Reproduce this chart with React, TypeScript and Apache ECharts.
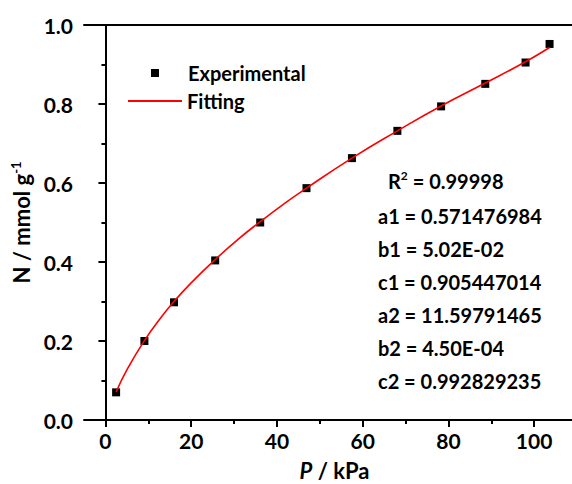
import React, { useEffect, useRef } from "react";
import * as echarts from "echarts";

const expP = [2.49, 9.09, 16.0, 25.6, 36.1, 46.9, 57.5, 68.1, 78.3, 88.6, 98.0, 103.6];
const expN = [0.07, 0.2, 0.298, 0.404, 0.5, 0.587, 0.663, 0.732, 0.794, 0.851, 0.905, 0.952];

const fitP = [2.49, 5, 9.09, 13, 16, 20, 25.6, 31, 36.1, 41.5, 46.9, 57.5, 68.1, 78.3, 88.6, 98.0, 103.6];
const fitN = [0.071, 0.127, 0.201, 0.26, 0.3, 0.347, 0.406, 0.458, 0.502, 0.546, 0.587, 0.663, 0.732, 0.795, 0.853, 0.907, 0.943];

const xTickValues = [0, 20, 40, 60, 80, 100];
const xMinorValues = [10, 30, 50, 70, 90];

const annotations = [
  "{n|R}{sup|2}{n| = 0.99998}",
  "a1 = 0.571476984",
  "b1 = 5.02E-02",
  "c1 = 0.905447014",
  "a2 = 11.59791465",
  "b2 = 4.50E-04",
  "c2 = 0.992829235",
];

const FONT = "Lato";

export default function App() {
  const ref = useRef<HTMLDivElement>(null);
  useEffect(() => {
    if (!ref.current) return;
    const chart = echarts.init(ref.current, undefined, { renderer: "svg" });
    const annY = [181, 218, 251, 284, 317, 350, 383];
    const annX = [388, 378, 378, 378, 378, 378, 378];
    chart.setOption({
      animation: false,
      backgroundColor: "#fff",
      grid: { left: 84, right: -5, top: 25, bottom: 64, containLabel: false, outerBoundsMode: "none" },
      legend: [
        {
          data: ["Experimental"],
          left: 151,
          top: 63,
          padding: 0,
          itemWidth: 8,
          itemHeight: 8,
          icon: "rect",
          selectedMode: false,
          textStyle: { fontFamily: FONT, fontWeight: "bold", fontSize: 20, color: "#000", padding: [0, 0, 0, 24] },
        },
        {
          data: ["Fitting"],
          left: 128,
          top: 91,
          padding: 0,
          itemWidth: 54,
          itemHeight: 2,
          icon: "rect",
          selectedMode: false,
          textStyle: { fontFamily: FONT, fontWeight: "bold", fontSize: 20, color: "#000" },
        },
      ],
      xAxis: [
        {
          type: "value",
          min: -5,
          max: 110,
          position: "bottom",
          name: "{i|P} / kPa",
          nameLocation: "middle",
          nameGap: 39,
          nameTextStyle: {
            fontFamily: FONT,
            fontWeight: "bold",
            fontSize: 22,
            color: "#000",
            padding: [0, 0, 0, 8],
            rich: { i: { fontFamily: FONT, fontWeight: "bold", fontStyle: "italic", fontSize: 22, color: "#000" } },
          },
          axisLine: { show: true, lineStyle: { color: "#000", width: 2 } },
          axisTick: { show: true, inside: false, length: 7, lineStyle: { color: "#000", width: 2 }, customValues: xTickValues },
          axisLabel: { show: true, customValues: xTickValues, margin: 10, fontFamily: FONT, fontWeight: "bold", fontSize: 21, color: "#000" },
          splitLine: { show: false },
        },
        {
          type: "value",
          min: -5,
          max: 110,
          position: "bottom",
          axisLine: { show: false },
          axisTick: { show: true, inside: false, length: 4, lineStyle: { color: "#000", width: 2 }, customValues: xMinorValues },
          axisLabel: { show: false },
          splitLine: { show: false },
        },
        {
          type: "value",
          min: -5,
          max: 110,
          position: "top",
          axisLine: { show: true, lineStyle: { color: "#000", width: 2 } },
          axisTick: { show: false },
          axisLabel: { show: false },
          splitLine: { show: false },
        },
      ],
      yAxis: {
        type: "value",
        min: 0,
        max: 1,
        interval: 0.2,
        name: "N / mmol g{sup|-1}",
        nameLocation: "middle",
        nameGap: 47,
        nameTextStyle: {
          fontFamily: FONT,
          fontWeight: "bold",
          fontSize: 22,
          color: "#000",
          rich: { sup: { fontFamily: FONT, fontWeight: "bold", fontSize: 13, color: "#000", padding: [0, 0, 12, 0] } },
        },
        axisLine: { show: true, lineStyle: { color: "#000", width: 2 } },
        axisTick: { show: true, inside: false, length: 7, lineStyle: { color: "#000", width: 2 } },
        minorTick: { show: true, splitNumber: 2, length: 4, lineStyle: { color: "#000", width: 2 } },
        axisLabel: {
          margin: 11,
          fontFamily: FONT,
          fontWeight: "bold",
          fontSize: 21,
          color: "#000",
          formatter: (v: number) => v.toFixed(1),
        },
        splitLine: { show: false },
        minorSplitLine: { show: false },
      },
      series: [
        {
          name: "Experimental",
          type: "scatter",
          data: expP.map((p, i) => [p, expN[i]]),
          symbol: "rect",
          symbolSize: 8,
          itemStyle: { color: "#000", opacity: 1 },
          z: 2,
        },
        {
          name: "Fitting",
          type: "line",
          data: fitP.map((p, i) => [p, fitN[i]]),
          smooth: true,
          symbol: "none",
          lineStyle: { color: "#ff0000", width: 1.6 },
          itemStyle: { color: "#ff0000" },
          z: 3,
        },
      ],
      graphic: annotations.map((t, i) => ({
        type: "text",
        left: annX[i],
        top: annY[i] - 12,
        style: {
          text: t,
          fontFamily: FONT,
          fontWeight: "bold",
          fontSize: 20,
          fill: "#000",
          rich: {
            n: { fontFamily: FONT, fontWeight: "bold", fontSize: 20, fill: "#000" },
            sup: { fontFamily: FONT, fontWeight: "bold", fontSize: 12, fill: "#000", padding: [0, 0, 11, 0] },
          },
        },
      })),
    });
    return () => chart.dispose();
  }, []);
  return <div ref={ref} style={{ position: "fixed", left: 0, top: 0, width: 572, height: 484 }} />;
}
